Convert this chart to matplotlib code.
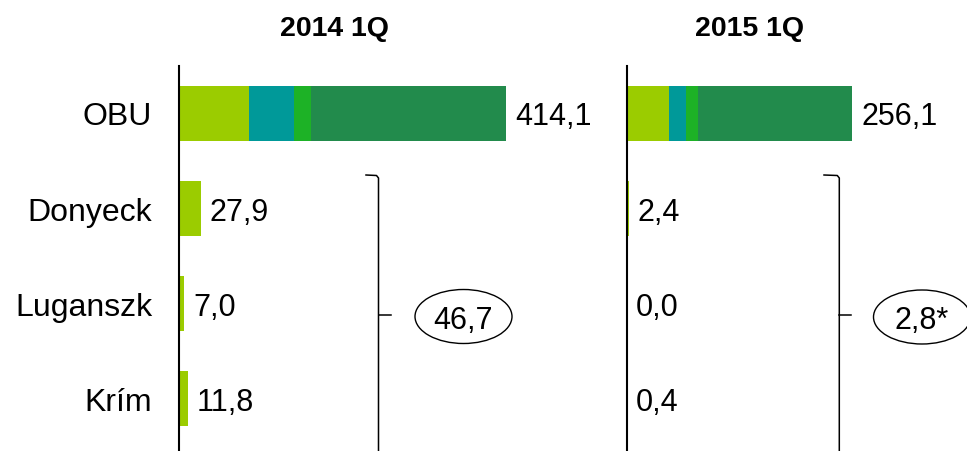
import matplotlib.pyplot as plt
from matplotlib.lines import Line2D
from matplotlib.patches import Ellipse

plt.rcParams['font.family'] = ['Liberation Sans', 'DejaVu Sans']

# Data
categories = ['OBU', 'Donyeck', 'Luganszk', 'Krím']
periods = ['2014 1Q', '2015 1Q']
obu_parts = {
    '2014 1Q': [88.4, 57.2, 21.1, 247.4],
    '2015 1Q': [48.8, 18.2, 13.6, 175.5],
}
regions = {
    '2014 1Q': [27.9, 7.0, 11.8],
    '2015 1Q': [2.4, 0.0, 0.4],
}
part_colors = ['#9BCC00', '#009999', '#1DB226', '#228B4C']

W, H = 967, 452
fig = plt.figure(figsize=(W / 100, H / 100), dpi=100)


def fx(x):
    return x / W


def fy(y):
    return 1 - y / H


def fmt(v):
    return f'{v:.1f}'.replace('.', ',')


# panel layout in pixels: zero line x, px per unit, right edge
panels = [(178.5, 0.792, 610), (626.5, 0.881, 967)]
row_top, row0, row_step = 67, 114, 95.3
bar_h = 55 / row_step

for (x0, scale, x1), per in zip(panels, periods):
    ax = fig.add_axes([fx(x0), 0, fx(x1 - x0), fy(row_top)])
    ax.set_xlim(0, (x1 - x0) / scale)
    ax.set_ylim((H - row0) / row_step, -(row0 - row_top) / row_step)
    for s in ['top', 'right', 'bottom']:
        ax.spines[s].set_visible(False)
    ax.spines['left'].set_linewidth(1.5)
    ax.spines['left'].set_zorder(5)
    ax.set_xticks([])
    ax.tick_params(axis='y', length=0, pad=19, labelsize=23)
    ax.set_yticks(range(len(categories)))
    if per == periods[0]:
        ax.set_yticklabels(categories)
    else:
        ax.set_yticklabels([])

    left = 0
    for v, c in zip(obu_parts[per], part_colors):
        ax.barh(0, v, left=left, height=bar_h, color=c, linewidth=0)
        left += v
    ax.annotate(fmt(left), (left, 0), xytext=(6.5, 0), textcoords='offset points',
                va='center_baseline', ha='left', fontsize=22)

    vals = regions[per]
    ax.barh(range(1, 4), vals, height=bar_h, color=part_colors[0], linewidth=0)
    for i, v in enumerate(vals):
        ax.annotate(fmt(v), (v, i + 1), xytext=(6.5, 0), textcoords='offset points',
                    va='center_baseline', ha='left', fontsize=22)

    # title above panel
    cx = 335 if per == periods[0] else 750
    fig.text(fx(cx), fy(29), per, ha='center', va='center', fontsize=20.5, fontweight='bold')

# right braces with the regional totals
braces = [(378.5, 366, 391, 463.5, 317.5, regions['2014 1Q'], ''),
          (839.3, 824, 851, 922, 318, regions['2015 1Q'], '*')]
for bx, hx, tx, ex, ey, vals, mark in braces:
    fig.add_artist(Line2D([fx(hx), fx(bx - 2), fx(bx), fx(bx)],
                          [fy(176), fy(176.5), fy(179), fy(460)],
                          color='black', lw=1.1, transform=fig.transFigure))
    fig.add_artist(Line2D([fx(bx), fx(tx)], [fy(315.5), fy(315.5)],
                          color='black', lw=1.1, transform=fig.transFigure))
    fig.add_artist(Ellipse((fx(ex), fy(ey)), fx(97), 54 / H, facecolor='none',
                           edgecolor='black', lw=1.0, transform=fig.transFigure))
    fig.text(fx(ex), fy(ey), fmt(sum(vals)) + mark, ha='center', va='center_baseline',
             fontsize=22)

fig.savefig('out.png', dpi=100)
